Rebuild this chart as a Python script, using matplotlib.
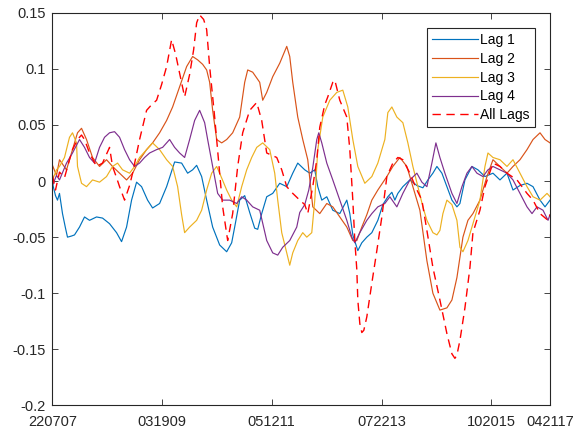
import matplotlib
matplotlib.use("Agg")
import matplotlib.pyplot as plt

plt.rcParams["font.family"] = ["Liberation Sans", "DejaVu Sans"]

# Sample index positions and values for each lag series
lag1_x = [0, 3, 5, 7, 10, 13, 15, 19, 22, 27, 32, 37, 44, 50, 57, 64, 69, 74, 79, 84,
          89, 95, 100, 107, 114, 122, 129, 135, 140, 144, 149, 154, 160, 167, 174, 179, 182, 187, 192, 197,
          202, 205, 209, 214, 220, 227, 234, 240, 245, 252, 257, 262, 265, 269, 274, 280, 287, 294, 297, 300,
          305, 309, 314, 319, 325, 330, 335, 339, 342, 345, 350, 357, 364, 370, 375, 380, 384, 389, 394, 399,
          404, 407, 412, 419, 425, 432, 440, 447, 454, 460, 467, 474, 480, 487, 492, 497]
lag1_y = [-0.002, -0.013, -0.017, -0.011, -0.029, -0.042, -0.050, -0.049, -0.048, -0.041, -0.032, -0.035, -0.032, -0.033, -0.038, -0.046, -0.054, -0.041, -0.017, -0.001,
          -0.005, -0.017, -0.024, -0.020, -0.005, 0.017, 0.016, 0.007, 0.010, 0.014, 0.004, -0.017, -0.041, -0.057, -0.063, -0.055, -0.041, -0.017, -0.013, -0.028,
          -0.042, -0.043, -0.029, -0.014, -0.011, -0.002, -0.005, 0.007, 0.016, 0.010, 0.007, 0.010, -0.005, -0.017, -0.014, -0.026, -0.029, -0.017, -0.029, -0.048,
          -0.062, -0.055, -0.050, -0.046, -0.035, -0.021, -0.014, -0.010, -0.017, -0.011, -0.005, 0.001, -0.004, -0.006, 0.001, 0.007, 0.013, 0.007, -0.005, -0.017,
          -0.023, -0.020, 0.001, 0.013, 0.010, 0.004, 0.007, 0.001, 0.007, -0.008, -0.004, -0.002, -0.005, -0.017, -0.023, -0.017]

lag2_x = [0, 4, 7, 14, 20, 25, 29, 34, 40, 47, 54, 60, 67, 74, 80, 87, 94, 100, 107, 114,
          120, 127, 134, 140, 145, 150, 154, 157, 160, 164, 169, 174, 180, 187, 192, 195, 200, 207, 210, 214,
          220, 227, 234, 237, 240, 245, 250, 255, 260, 267, 274, 280, 287, 294, 300, 304, 309, 314, 319, 325,
          334, 340, 347, 354, 360, 367, 374, 380, 387, 394, 399, 404, 407, 410, 415, 420, 427, 434, 440, 447,
          454, 460, 467, 474, 480, 487, 492, 497]
lag2_y = [0.014, 0.005, 0.019, 0.010, 0.028, 0.043, 0.047, 0.037, 0.021, 0.013, 0.019, 0.013, 0.007, 0.001, 0.007, 0.019, 0.028, 0.034, 0.043, 0.054,
          0.066, 0.084, 0.102, 0.111, 0.108, 0.104, 0.099, 0.088, 0.063, 0.037, 0.034, 0.037, 0.043, 0.057, 0.088, 0.099, 0.097, 0.088, 0.072, 0.079,
          0.093, 0.105, 0.120, 0.111, 0.088, 0.057, 0.037, 0.019, -0.023, -0.029, -0.020, -0.023, -0.032, -0.041, -0.053, -0.053, -0.041, -0.030, -0.017, -0.008,
          0.004, 0.013, 0.021, 0.013, -0.005, -0.026, -0.071, -0.100, -0.115, -0.113, -0.106, -0.086, -0.068, -0.050, -0.035, -0.029, -0.017, 0.004, 0.019, 0.013,
          0.007, 0.013, 0.019, 0.028, 0.037, 0.043, 0.037, 0.034]

lag3_x = [0, 4, 7, 12, 17, 20, 24, 25, 29, 34, 40, 47, 54, 60, 65, 70, 77, 82, 87, 94,
          100, 107, 114, 120, 125, 129, 132, 137, 144, 149, 154, 159, 164, 167, 174, 179, 184, 189, 194, 199,
          204, 210, 217, 222, 225, 229, 234, 237, 240, 245, 250, 254, 259, 262, 265, 270, 277, 284, 290, 295,
          300, 305, 312, 319, 325, 332, 335, 339, 344, 350, 355, 360, 365, 370, 374, 380, 384, 387, 390, 394,
          399, 404, 407, 410, 415, 420, 427, 432, 435, 440, 447, 454, 460, 467, 474, 480, 487, 494, 497]
lag3_y = [0.001, 0.010, 0.013, 0.021, 0.039, 0.043, 0.034, 0.013, -0.002, -0.005, 0.001, -0.001, 0.004, 0.013, 0.016, 0.010, 0.007, 0.013, 0.021, 0.028,
          0.034, 0.028, 0.019, 0.013, -0.005, -0.030, -0.046, -0.041, -0.035, -0.026, -0.008, 0.007, 0.013, 0.007, -0.008, -0.017, -0.023, -0.005, 0.010, 0.021,
          0.030, 0.034, 0.028, 0.007, -0.017, -0.046, -0.064, -0.075, -0.064, -0.053, -0.046, -0.050, -0.046, -0.017, 0.028, 0.057, 0.072, 0.079, 0.081, 0.066,
          0.037, 0.013, -0.002, 0.004, 0.016, 0.037, 0.061, 0.066, 0.057, 0.052, 0.034, 0.013, -0.005, -0.023, -0.035, -0.046, -0.048, -0.044, -0.029, -0.017,
          -0.021, -0.035, -0.059, -0.063, -0.053, -0.038, -0.017, 0.013, 0.025, 0.021, 0.019, 0.013, 0.019, 0.007, -0.005, -0.014, -0.017, -0.011, -0.014]

lag4_x = [0, 4, 7, 14, 20, 27, 32, 37, 42, 47, 52, 57, 62, 67, 72, 77, 82, 87, 92, 97,
          104, 110, 117, 122, 127, 132, 137, 142, 147, 152, 155, 160, 165, 170, 177, 184, 189, 194, 200, 207,
          214, 220, 225, 230, 237, 244, 247, 252, 256, 260, 264, 266, 269, 274, 280, 287, 294, 299, 302, 307,
          314, 319, 325, 332, 337, 344, 350, 357, 364, 369, 374, 379, 383, 387, 392, 399, 404, 409, 414, 419,
          424, 430, 435, 440, 447, 454, 460, 467, 474, 479, 484, 490, 495, 497]
lag4_y = [-0.004, 0.005, 0.001, 0.016, 0.025, 0.037, 0.030, 0.021, 0.016, 0.030, 0.039, 0.043, 0.044, 0.039, 0.028, 0.019, 0.013, 0.016, 0.021, 0.025,
          0.028, 0.030, 0.037, 0.030, 0.025, 0.021, 0.037, 0.054, 0.063, 0.052, 0.037, 0.013, -0.011, -0.017, -0.017, -0.020, -0.014, -0.017, -0.023, -0.026,
          -0.053, -0.064, -0.066, -0.059, -0.053, -0.041, -0.028, -0.021, -0.008, 0.012, 0.037, 0.043, 0.034, 0.016, 0.001, -0.017, -0.035, -0.050, -0.055, -0.046,
          -0.035, -0.029, -0.023, -0.020, -0.014, -0.023, -0.011, 0.001, 0.007, -0.001, -0.005, 0.016, 0.034, 0.021, 0.007, -0.011, -0.020, -0.005, 0.007, 0.013,
          0.007, 0.004, 0.010, 0.013, 0.010, 0.007, 0.001, -0.011, -0.023, -0.029, -0.023, -0.026, -0.035, -0.030]

all_x = [0, 3, 7, 12, 17, 20, 25, 29, 32, 37, 44, 50, 57, 60, 64, 67, 72, 77, 80, 87,
         94, 99, 104, 109, 114, 119, 123, 127, 132, 137, 141, 144, 147, 151, 154, 157, 162, 167, 170, 175,
         180, 185, 190, 197, 204, 209, 214, 219, 224, 229, 234, 240, 247, 252, 255, 260, 264, 267, 272, 275,
         280, 282, 287, 294, 297, 300, 302, 304, 305, 307, 309, 311, 314, 319, 324, 329, 334, 340, 345, 350,
         357, 363, 369, 374, 380, 387, 394, 399, 402, 404, 407, 412, 417, 420, 427, 432, 440, 447, 454, 464,
         474, 480, 487, 495, 497]
all_y = [0.005, -0.008, 0.008, 0.003, 0.019, 0.028, 0.037, 0.041, 0.037, 0.025, 0.013, 0.016, 0.030, 0.013, 0.003, -0.005, -0.017, -0.004, 0.007, 0.037,
         0.063, 0.068, 0.072, 0.086, 0.102, 0.126, 0.113, 0.096, 0.075, 0.095, 0.117, 0.141, 0.148, 0.144, 0.135, 0.102, 0.057, 0.007, -0.023, -0.053,
         -0.029, 0.013, 0.043, 0.063, 0.070, 0.054, 0.025, 0.023, 0.021, 0.010, -0.005, -0.011, -0.017, -0.021, -0.029, -0.005, 0.019, 0.048, 0.068, 0.075,
         0.088, 0.090, 0.072, 0.057, 0.028, -0.017, -0.053, -0.079, -0.106, -0.127, -0.135, -0.133, -0.121, -0.091, -0.062, -0.032, 0.004, 0.016, 0.021, 0.019,
         0.007, -0.006, -0.017, -0.044, -0.077, -0.106, -0.136, -0.154, -0.158, -0.155, -0.142, -0.113, -0.077, -0.046, -0.026, -0.005, 0.016, 0.013, 0.007, 0.001,
         -0.011, -0.017, -0.029, -0.035, -0.030]

tick_pos = [0, 109, 219, 329, 438, 497]
tick_labels = ["220707", "031909", "051211", "072213", "102015", "042117"]
y_ticks = [-0.2, -0.15, -0.1, -0.05, 0, 0.05, 0.1, 0.15]
y_labels = ["-0.2", "-0.15", "-0.1", "-0.05", "0", "0.05", "0.1", "0.15"]

fig = plt.figure(figsize=(5.73, 4.34), dpi=100)
ax = fig.add_axes([0.0916, 0.0657, 0.8683, 0.905])

lw = 0.85
ax.plot(lag1_x, lag1_y, color=(0.0, 0.447, 0.741), lw=lw, label="Lag 1")
ax.plot(lag2_x, lag2_y, color=(0.85, 0.325, 0.098), lw=lw, label="Lag 2")
ax.plot(lag3_x, lag3_y, color=(0.929, 0.694, 0.125), lw=lw, label="Lag 3")
ax.plot(lag4_x, lag4_y, color=(0.494, 0.184, 0.556), lw=lw, label="Lag 4")
ax.plot(all_x, all_y, color="red", lw=1.0, dashes=(6, 4), label="All Lags")

ax.set_xlim(0, 497)
ax.set_ylim(-0.2, 0.15)
ax.set_xticks(tick_pos)
ax.set_xticklabels(tick_labels)
ax.set_yticks(y_ticks)
ax.set_yticklabels(y_labels)

edge = (0.15, 0.15, 0.15)
for s in ax.spines.values():
    s.set_color(edge)
    s.set_linewidth(0.8)
ax.tick_params(direction="in", length=4, width=0.6, colors=edge, labelsize=10.5,
               top=True, right=True)
ax.tick_params(axis="x", pad=7)
ax.tick_params(axis="y", pad=5)

leg = ax.legend(loc="upper right", fontsize=10, handlelength=3.3, handletextpad=0.2,
                labelspacing=0.35, borderaxespad=1.1, fancybox=False, framealpha=1,
                edgecolor=edge, borderpad=0.35)
leg.get_frame().set_linewidth(0.8)

fig.savefig("out.png", dpi=100)
